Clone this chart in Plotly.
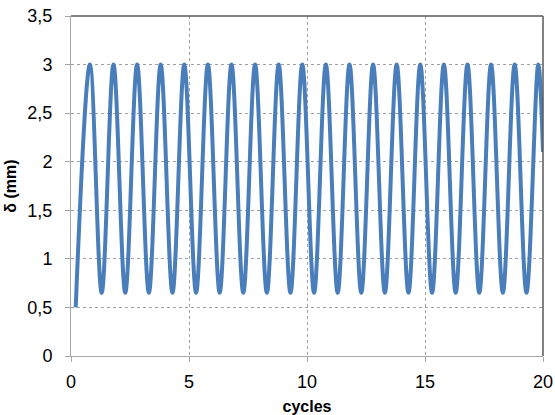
import plotly.graph_objects as go

# Start point, alternating peaks/troughs, end point
cycles = [0.2,
          0.8, 1.3, 1.8, 2.3, 2.8, 3.3, 3.8, 4.3, 4.8, 5.3,
          5.8, 6.3, 6.8, 7.3, 7.8, 8.3, 8.8, 9.3, 9.8, 10.3,
          10.8, 11.3, 11.8, 12.3, 12.8, 13.3, 13.8, 14.3, 14.8, 15.3,
          15.8, 16.3, 16.8, 17.3, 17.8, 18.3, 18.8, 19.3, 19.8,
          20.0]
delta_mm = [0.5,
            3.0, 0.65, 3.0, 0.65, 3.0, 0.65, 3.0, 0.65, 3.0, 0.65,
            3.0, 0.65, 3.0, 0.65, 3.0, 0.65, 3.0, 0.65, 3.0, 0.65,
            3.0, 0.65, 3.0, 0.65, 3.0, 0.65, 3.0, 0.65, 3.0, 0.65,
            3.0, 0.65, 3.0, 0.65, 3.0, 0.65, 3.0, 0.65, 3.0,
            2.1]

x_ticks = [0, 5, 10, 15, 20]
x_tick_labels = ["0", "5", "10", "15", "20"]
y_ticks = [0, 0.5, 1, 1.5, 2, 2.5, 3, 3.5]
y_tick_labels = ["0", "0,5", "1", "1,5", "2", "2,5", "3", "3,5"]

font_family = "Liberation Sans, Arial, sans-serif"

fig = go.Figure()
fig.add_trace(go.Scatter(
    x=cycles, y=delta_mm, mode="lines",
    line=dict(color="#4a7ebb", width=4, shape="spline", smoothing=1.0),
    showlegend=False, hoverinfo="skip"))

fig.update_layout(
    width=555, height=415,
    margin=dict(l=71, r=12, t=16, b=59),
    paper_bgcolor="white", plot_bgcolor="white",
    font=dict(family=font_family, size=18, color="#000000"),
    xaxis=dict(
        range=[0, 20], tickvals=x_ticks, ticktext=x_tick_labels,
        automargin=False, ticklabeloverflow="allow",
        showgrid=True, gridcolor="#a0a0a0", griddash="3px,3px", gridwidth=1,
        showline=True, linecolor="#a6a6a6", linewidth=1,
        ticks="outside", ticklen=5, tickcolor="#a6a6a6",
        tickfont=dict(size=18),
        ticklabelstandoff=4,
        zeroline=False,
        title=dict(text="<b>cycles</b>", font=dict(size=16), standoff=16),
    ),
    yaxis=dict(
        range=[0, 3.5], tickvals=y_ticks, ticktext=y_tick_labels,
        automargin=False, ticklabeloverflow="allow",
        showgrid=True, gridcolor="#a0a0a0", griddash="3px,3px", gridwidth=1,
        showline=True, linecolor="#a6a6a6", linewidth=1,
        ticks="outside", ticklen=5, tickcolor="#a6a6a6",
        tickfont=dict(size=18),
        ticklabelstandoff=9,
        zeroline=False,
        title=dict(text="<b>δ (mm)</b>", font=dict(size=16), standoff=6),
    ),
    shapes=[
        dict(type="line", xref="paper", yref="paper", x0=0, x1=1, y0=1, y1=1,
             line=dict(color="#595959", width=1.5)),
        dict(type="line", xref="paper", yref="paper", x0=1, x1=1, y0=0, y1=1,
             line=dict(color="#595959", width=1.5)),
    ],
)

# remove the browser's default 8px body margin so the figure fills the window
fig.write_html("out.html",
               config={"displayModeBar": False},
               post_script="document.body.style.margin='0';document.body.style.overflow='hidden';")
